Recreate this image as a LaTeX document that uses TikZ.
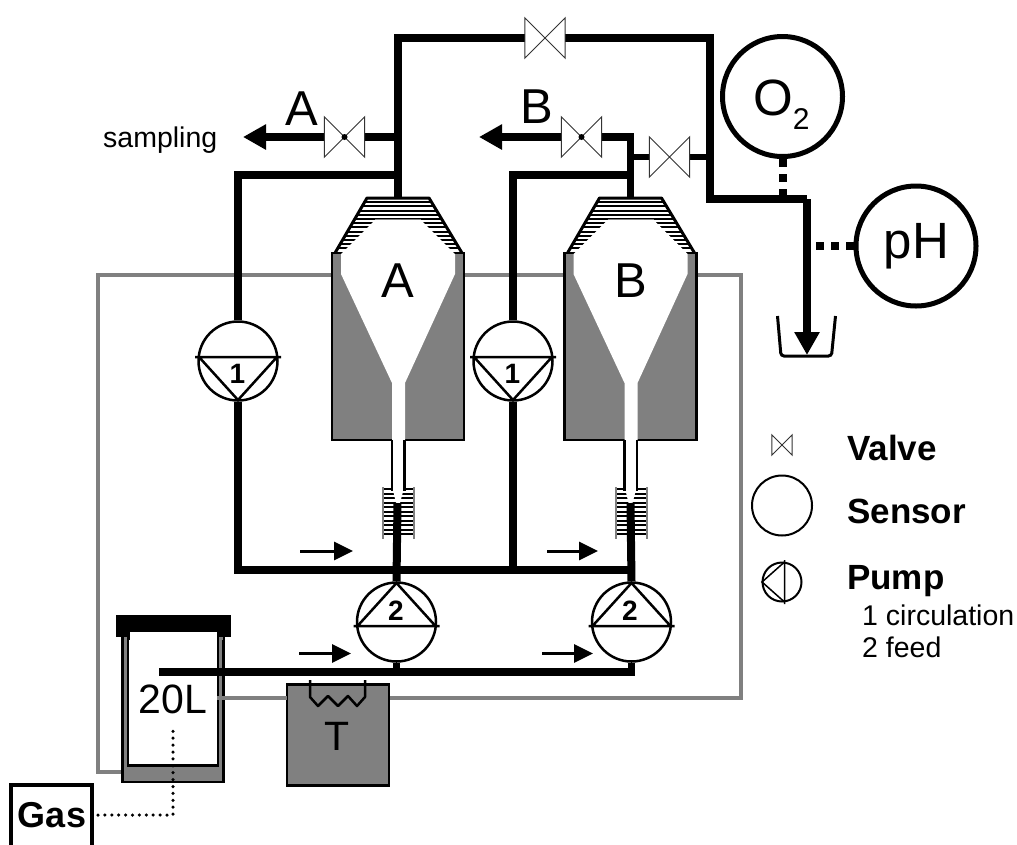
\documentclass[tikz,border=0pt]{standalone}
\usepackage{fontspec}
\setmainfont{Liberation Sans}
\usetikzlibrary{arrows.meta}
\definecolor{jacketgray}{gray}{0.5}
\tikzset{
    big/.style = {inner sep = 0, font = \fontsize{49}{51}\selectfont},
    mid/.style = {inner sep = 0, font = \fontsize{41}{43}\selectfont},
    key/.style = {inner sep = 0, anchor = base west, font = \fontsize{35}{37}\selectfont\bfseries},
    small/.style = {inner sep = 0, anchor = base west, font = \fontsize{28.5}{30}\selectfont},
    num/.style = {inner sep = 0, font = \fontsize{28}{30}\selectfont\bfseries},
    pipe/.style = {line width = 7.5},
    loopline/.style = {line width = 4, color = jacketgray},
    jacket/.style = {draw, line width = 2.5, fill = jacketgray, inner sep = 0},
    valve/.style = {inner sep = 0, minimum size = 40, fill = white},
    valveline/.style = {line width = 1, draw = black!80},
    pump/.style = {draw, circle, line width = 2.5, inner sep = 0, minimum size = 79, fill = white},
    sensor/.style = {draw, circle, line width = 5, inner sep = 0, minimum size = 120, fill = white},
    flow/.style = {line width = 3, -{Triangle[length = 19, width = 18]}},
    outflow/.style = {pipe, -{Triangle[length = 23, width = 24]}},
    probe/.style = {line width = 8, dash pattern = on 8 off 7},
    gasline/.style = {line width = 3.5, line cap = round, dash pattern = on 0 off 6.9},
}

\begin{document}
\begin{tikzpicture}[x = 1pt, y = -1pt]

    \useasboundingbox (0, 0) rectangle (1017, 844);

    \coordinate (cornerL) at (98, 772);
    \coordinate (cornerR) at (741, 697.5);
    \coordinate (tankL) at (123, 772);
    \coordinate (tankR) at (217, 697.5);
    \coordinate (bathL) at (287, 697.5);
    \coordinate (bathR) at (389, 697.5);
    \coordinate (lA) at (333, 275);
    \coordinate (rA) at (464, 275);
    \coordinate (lB) at (565.5, 275);
    \coordinate (rB) at (696.5, 275);

    \draw [loopline] (lA) -| (cornerL) -- (tankL);
    \draw [loopline] (rA) -- (lB);
    \draw [loopline] (rB) -| (cornerR) -- (bathR);

    \foreach \r/\dx in {A/0, B/232.5} {
        \begin{scope}[xshift = \dx]
            \node [jacket, minimum width = 132, minimum height = 187] (body\r) at (398, 346.5) {};
            \begin{scope}
                \clip (367, 198) -- (429, 198) -- (462, 253) -- (335, 253) -- cycle;
                \foreach \y in {198, 202.2, ..., 254} {
                    \draw [line width = 2] (330, \y) -- (466, \y);
                }
            \end{scope}
            \fill [white] (341, 254) -- (375, 220) -- (421, 220) -- (455, 254) -- (455, 274)
                -- (405, 383) -- (405, 441) -- (392, 441) -- (392, 383) -- (341, 274) -- cycle;
            \draw [line width = 1, jacketgray] (375, 219) -- (421, 219);
            \draw [line width = 3, line join = round] (335, 253) -- (367, 198) -- (429, 198) -- (462, 253);
            \foreach \y in {489, 493.5, ..., 538} {
                \draw [line width = 2] (383, \y) -- (414, \y);
            }
            \draw [line width = 2, jacketgray] (383, 487) -- (383, 539) (414, 487) -- (414, 539);
            \fill [white] (392, 486) -- (396, 503) -- (400, 503) -- (404.5, 486) -- cycle;
            \draw [line width = 2.5] (392, 440) -- (392, 491) (404.5, 440) -- (404.5, 491);
            \node [big] (name\r) at (398, 281) {\r};
        \end{scope}
    }

    \node [jacket, minimum width = 101, minimum height = 146] (tank) at (173, 709) {};
    \node [draw, line width = 2.5, fill = white, inner sep = 0, minimum width = 90, minimum height = 135] (tankin) at (173, 698) {};
    \fill (116, 615) rectangle (231, 637);
    \fill [white] (129.5, 632) rectangle (217, 640);
    \fill [jacketgray] (124, 637) rectangle (127, 640);
    \fill [jacketgray] (219.5, 637) rectangle (222.5, 640);
    \draw [line width = 2.5] (128.5, 632) -- (128.5, 640) (218, 632) -- (218, 640);

    \node [jacket, minimum width = 102, minimum height = 101] (bath) at (338, 735) {};
    \draw [loopline] (bathL) -- (tankR);
    \draw [line width = 2.5, line join = round] (310, 680) -- (310, 697) -- (318, 706) -- (328, 696)
        -- (338, 706) -- (348, 696) -- (357, 706) -- (365, 697) -- (365, 680);

    \node [pump] (p1A) at (238, 361) {};
    \node [pump] (p1B) at (513, 361) {};
    \node [pump] (p2A) at (396.5, 622) {};
    \node [pump] (p2B) at (631.5, 622) {};
    \foreach \p in {p1A, p1B} {
        \draw [line width = 2.5, shift = {(\p.center)}] (-43, -4) -- (43, -4) (-39, -4) -- (0, 39) -- (39, -4);
    }
    \foreach \p in {p2A, p2B} {
        \draw [line width = 2.5, shift = {(\p.center)}] (-43, 4) -- (43, 4) (-39, 4) -- (0, -39) -- (39, 4);
    }
    \node [num] (n1A) at (237.5, 374) {1};
    \node [num] (n1B) at (512.5, 374) {1};
    \node [num] (n2A) at (396, 611) {2};
    \node [num] (n2B) at (630, 611) {2};

    \node [valve] (vtop) at (545, 38) {};
    \node [valve] (vA) at (344.5, 137) {};
    \node [valve] (vB) at (581.5, 137) {};
    \node [valve] (vmid) at (669.5, 157) {};

    \coordinate (hoodA) at (398, 198);
    \coordinate (hoodB) at (630.5, 198);
    \coordinate (teeA) at (398, 175);
    \coordinate (teeB) at (630.5, 175);
    \coordinate (tipA) at (243, 137);
    \coordinate (tipB) at (479, 137);
    \coordinate (bend) at (710, 199);
    \coordinate (drain) at (807, 199);
    \coordinate (cup) at (807, 355);
    \coordinate (baseB) at (631, 570);
    \coordinate (stemA) at (397.5, 503);
    \coordinate (stemB) at (630.5, 503);
    \coordinate (dip) at (159, 672);

    \draw [pipe] (hoodA) |- (vtop.west);
    \draw [pipe] (vtop.east) -| (bend) -- (drain);
    \draw [outflow] (drain) -- (cup);
    \draw [pipe] (vA.east) -- (vA.east -| hoodA);
    \draw [outflow] (vA.west) -- (tipA);
    \draw [outflow] (vB.west) -- (tipB);
    \draw [pipe] (vB.east) -| (hoodB);
    \draw [line width = 6] (vmid.west) -- (vmid.west -| hoodB);
    \draw [line width = 6] (vmid.east) -- (vmid.east -| bend);
    \draw [pipe] (teeA) -| (p1A.north);
    \draw [pipe] (teeB) -| (p1B.north);
    \draw [pipe] (p1A.south) |- (baseB);
    \draw [pipe] (p1B.south) -- (p1B.south |- baseB);
    \draw [line width = 8] (stemA) -- (p2A.north);
    \draw [line width = 8] (stemB) -- (p2B.north);
    \draw [pipe] (dip) -| (p2B.south);
    \draw [pipe] (p2A.south) -- (p2A.south |- dip);

    \foreach \v in {vtop, vA, vB, vmid} {
        \draw [valveline] (\v.south west) -- (\v.north east) -- (\v.south east) -- (\v.north west) -- cycle;
    }
    \fill (vA.center) circle (3);
    \fill (vB.center) circle (3);

    \node [sensor] (o2) at (782.5, 96.5) {};
    \node [big, anchor = base west] (o2text) at (753, 115) {\fontsize{51}{53}\selectfont O\raisebox{-14pt}{\fontsize{30}{30}\selectfont 2}};
    \node [sensor] (ph) at (916, 246) {};
    \node [big] (phtext) at (916.5, 246) {\fontsize{51}{53}\selectfont pH};
    \draw [probe] (o2.south) -- (o2.south |- drain);
    \draw [probe] (ph.west) -- (ph.west -| drain);

    \draw [line width = 3, rounded corners = 3] (777.5, 316) -- (781, 356) -- (831.5, 356) -- (835.5, 316);

    \coordinate (fa1) at (300, 551);
    \coordinate (fb1) at (547, 551);
    \coordinate (fa2) at (299, 653.5);
    \coordinate (fb2) at (542, 653.5);
    \draw [flow] (fa1) -- ++(53, 0);
    \draw [flow] (fb1) -- ++(51, 0);
    \draw [flow] (fa2) -- ++(52, 0);
    \draw [flow] (fb2) -- ++(51, 0);

    \node [big, anchor = base west] (labA) at (285, 125) {A};
    \node [big, anchor = base west] (labB) at (520, 123) {B};
    \node [small] (sampling) at (103, 147) {sampling};
    \node [mid] (vol) at (173, 699) {20L};
    \node [mid] (temp) at (337, 736) {T};

    \node [draw, line width = 3.5, fill = white, inner sep = 0, minimum width = 81, minimum height = 72] (gas) at (51.5, 821) {};
    \node [inner sep = 0, font = \fontsize{36}{38}\selectfont\bfseries] (gastext) at (52, 815.5) {Gas};
    \coordinate (gasbend) at (173, 815);
    \coordinate (gasend) at (173, 725);
    \draw [gasline] (98, 815) -- (gasbend) -- (gasend);

    \node [valve, minimum size = 20] (kv) at (782, 445) {};
    \draw [valveline] (kv.south west) -- (kv.north east) -- (kv.south east) -- (kv.north west) -- cycle;
    \node [draw, circle, line width = 2, inner sep = 0, minimum size = 60] (ks) at (782, 505.5) {};
    \node [draw, circle, line width = 2, inner sep = 0, minimum size = 39] (kp) at (782, 582) {};
    \draw [line width = 1.5, shift = {(kp.center)}] (2.5, -22) -- (2.5, 22) (2.5, -20) -- (-20, 0) -- (2.5, 20);
    \node [key] (kvt) at (847, 460) {Valve};
    \node [key] (kst) at (847, 523.5) {Sensor};
    \node [key] (kpt) at (847, 589) {Pump};
    \node [small] (k1) at (862, 625) {1 circulation};
    \node [small] (k2) at (862, 657) {2 feed};

\end{tikzpicture}
\end{document}
